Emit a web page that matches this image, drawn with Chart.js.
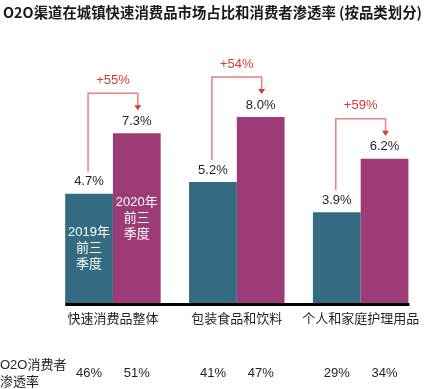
<!DOCTYPE html>
<html>
<head>
<meta charset="utf-8">
<script src="https://cdn.jsdelivr.net/npm/chart.js@4"></script>
<style>
  body { margin: 0; background: #fff; }
  #wrap { width: 429px; height: 389px; }
</style>
</head>
<body>
<div id="wrap"><canvas id="o2o-chart" width="429" height="389"></canvas></div>
<script>
const categories = ['快速消费品整体', '包装食品和饮料', '个人和家庭护理用品'];
const share2019 = [4.7, 5.2, 3.9];
const share2020 = [7.3, 8.0, 6.2];
const growth = ['+55%', '+54%', '+59%'];
const penetration2019 = ['46%', '41%', '29%'];
const penetration2020 = ['51%', '47%', '34%'];
const seriesNames = [['2019年', '前三', '季度'], ['2020年', '前三', '季度']];
const rowTitle = ['O2O消费者', '渗透率'];

const FONT = '"Liberation Sans", "Noto Sans CJK SC", sans-serif';
const TEAL = '#356b80';
const PLUM = '#9c3b75';
const RED = '#d63a33';
const RED_LINE = '#e8807c';

const annotations = {
  id: 'annotations',
  afterDatasetsDraw(chart) {
    const ctx = chart.ctx;
    const a = chart.getDatasetMeta(0).data;
    const b = chart.getDatasetMeta(1).data;
    const bottom = chart.chartArea.bottom;
    ctx.save();

    // axis line under the bars
    ctx.fillStyle = '#000';
    const left = a[0].x - a[0].width / 2;
    const right = b[b.length - 1].x + b[b.length - 1].width / 2;
    ctx.fillRect(left, bottom, right - left + 1, 3);

    ctx.font = '13px ' + FONT;
    ctx.textAlign = 'center';
    ctx.textBaseline = 'middle';

    for (let i = 0; i < a.length; i++) {
      // value labels
      ctx.fillStyle = '#231f20';
      ctx.fillText(share2019[i].toFixed(1) + '%', a[i].x, a[i].y - 12);
      ctx.fillText(share2020[i].toFixed(1) + '%', b[i].x, b[i].y - 12);

      // growth bracket
      const x1 = a[i].x - 1, x2 = b[i].x + 1;
      const top = b[i].y - 40;
      const tip = b[i].y - 23;
      ctx.strokeStyle = RED_LINE;
      ctx.lineWidth = 1.5;
      ctx.beginPath();
      ctx.moveTo(x1, a[i].y - 22);
      ctx.lineTo(x1, top);
      ctx.lineTo(x2, top);
      ctx.lineTo(x2, tip - 4);
      ctx.stroke();
      ctx.fillStyle = RED;
      ctx.beginPath();
      ctx.moveTo(x2 - 3.5, tip - 5);
      ctx.lineTo(x2 + 3.5, tip - 5);
      ctx.lineTo(x2, tip);
      ctx.closePath();
      ctx.fill();
      ctx.fillText(growth[i], (x1 + x2) / 2, top - 13);

      // penetration row
      ctx.fillStyle = '#231f20';
      ctx.fillText(penetration2019[i], a[i].x, 373);
      ctx.fillText(penetration2020[i], b[i].x, 373);
    }

    // series names inside the first pair of bars
    ctx.fillStyle = '#fff';
    [a[0], b[0]].forEach((bar, k) => {
      const mid = (bar.y + bottom) / 2;
      seriesNames[k].forEach((line, j) => {
        ctx.fillText(line, bar.x, mid + (j - 1) * 16);
      });
    });

    ctx.fillStyle = '#231f20';
    ctx.textAlign = 'left';
    ctx.fillText(rowTitle[0], 0, 365);
    ctx.fillText(rowTitle[1], 0, 382);
    ctx.restore();
  }
};

new Chart(document.getElementById('o2o-chart'), {
  type: 'bar',
  data: {
    labels: categories,
    datasets: [
      { label: '2019年前三季度', data: share2019, backgroundColor: TEAL },
      { label: '2020年前三季度', data: share2020, backgroundColor: PLUM }
    ]
  },
  options: {
    responsive: false,
    animation: false,
    layout: { padding: { left: 3, right: 5, top: 0, bottom: 0 } },
    plugins: {
      legend: { display: false },
      tooltip: { enabled: false },
      title: {
        display: true,
        text: 'O2O渠道在城镇快速消费品市场占比和消费者渗透率 (按品类划分)',
        align: 'start',
        color: '#1a1a1a',
        font: { family: '"Noto Sans CJK SC", sans-serif', size: 14.4, weight: 'bold', lineHeight: 1.2 },
        padding: { top: 4, bottom: 26 }
      }
    },
    datasets: {
      bar: { barPercentage: 1, categoryPercentage: 0.771 }
    },
    scales: {
      x: {
        grid: { display: false, drawTicks: false },
        border: { display: false },
        ticks: { color: '#231f20', padding: 9, font: { family: FONT, size: 13 } },
        afterFit: s => { s.height = 86; }
      },
      y: {
        min: 0,
        max: 11,
        grid: { display: false },
        border: { display: false },
        ticks: { display: false },
        afterFit: s => { s.width = 48; }
      }
    }
  },
  plugins: [annotations]
});
</script>
</body>
</html>
